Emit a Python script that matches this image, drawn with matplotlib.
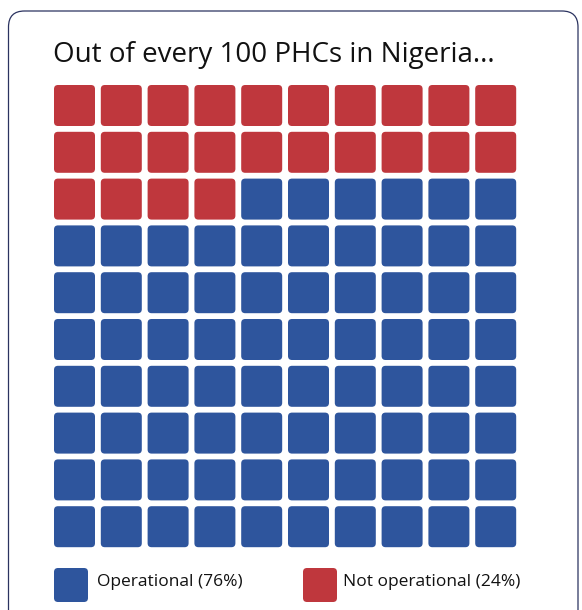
import matplotlib
matplotlib.use("Agg")
from matplotlib import pyplot as plt
from matplotlib.patches import FancyBboxPatch

# waffle data: out of every 100 PHCs
categories = ["Not operational", "Operational"]
counts = [24, 76]
colors = ["#BF373D", "#2E559D"]
legend_order = [1, 0]
title = "Out of every 100 PHCs in Nigeria..."

n_cols = 10
n_rows = 10

# layout in pixels
W, H = 582, 610
x0, y0 = 54, 85
cell = 41
step = 46.8

fig = plt.figure(figsize=(W / 100, H / 100), dpi=100)
ax = fig.add_axes([0, 0, 1, 1])
ax.set_xlim(0, W)
ax.set_ylim(H, 0)
ax.axis("off")

# card outline
ax.add_patch(FancyBboxPatch((8.5, 11), 569.5, 620, boxstyle="round,pad=0,rounding_size=16",
                            fc="white", ec="#2B3360", lw=0.9))

ax.text(53, 62, title, fontsize=20, family="Open Sans", color="#111111", va="baseline")

# fill cells row by row
cell_colors = []
for c, col in zip(counts, colors):
    cell_colors += [col] * c
for i, col in enumerate(cell_colors):
    r, c = divmod(i, n_cols)
    ax.add_patch(FancyBboxPatch((x0 + c * step, y0 + r * step), cell, cell,
                                boxstyle="round,pad=0,rounding_size=4",
                                fc=col, ec="none"))

# legend
leg_x = [54, 303]
for lx, k in zip(leg_x, legend_order):
    pct = round(100 * counts[k] / sum(counts))
    ax.add_patch(FancyBboxPatch((lx, 568), 34, 34, boxstyle="round,pad=0,rounding_size=4",
                                fc=colors[k], ec="none"))
    ax.text(lx + 40 if k == 0 else lx + 43, 582, f"{categories[k]} ({pct}%)", fontsize=12.5,
            family="Open Sans", color="#111111", va="center")

fig.savefig("out.png", dpi=100)
